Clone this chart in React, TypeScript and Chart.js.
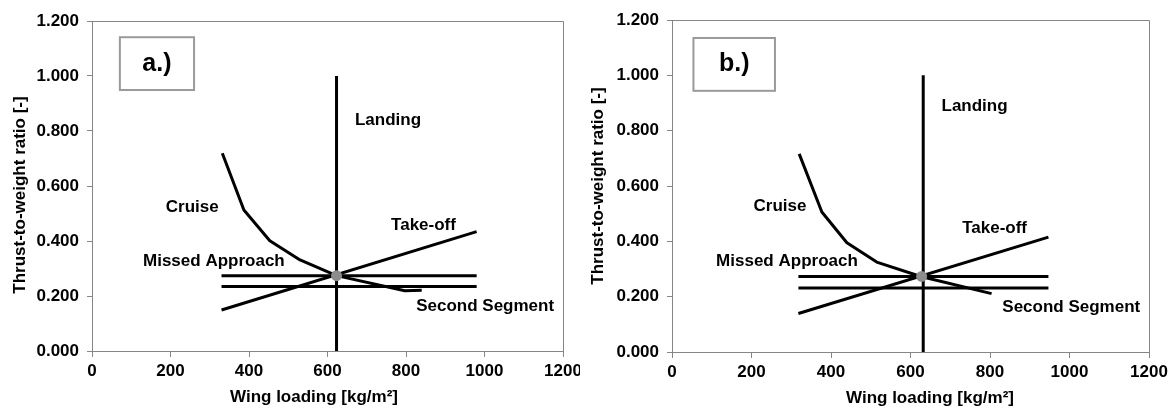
import React, { useEffect, useRef } from "react";
import { Chart, registerables } from "chart.js";

Chart.register(...registerables);

// ---------- Data ----------
const X_TICKS = [0, 200, 400, 600, 800, 1000, 1200];
const Y_TICKS = [0, 0.2, 0.4, 0.6, 0.8, 1.0, 1.2];

// Panel a.)
const A_CRUISE_X = [332, 387, 453, 530, 623, 797, 840];
const A_CRUISE_Y = [0.719, 0.513, 0.401, 0.331, 0.274, 0.219, 0.221];
const A_MISSED_X = [330, 980];
const A_MISSED_Y = [0.274, 0.274];
const A_SECOND_X = [330, 980];
const A_SECOND_Y = [0.235, 0.235];
const A_TAKEOFF_X = [330, 980];
const A_TAKEOFF_Y = [0.149, 0.434];
const A_LANDING_X = [623, 623];
const A_LANDING_Y = [0, 1.0];
const A_POINT = [623, 0.274];

// Panel b.)
const B_CRUISE_X = [320, 377, 440, 515, 626, 804];
const B_CRUISE_Y = [0.716, 0.506, 0.395, 0.325, 0.273, 0.211];
const B_MISSED_X = [318, 947];
const B_MISSED_Y = [0.273, 0.273];
const B_SECOND_X = [318, 947];
const B_SECOND_Y = [0.231, 0.231];
const B_TAKEOFF_X = [318, 947];
const B_TAKEOFF_Y = [0.139, 0.415];
const B_LANDING_X = [632, 632];
const B_LANDING_Y = [0, 1.0];
const B_POINT = [628, 0.273];

const LABEL_TEXTS = ["Landing", "Cruise", "Take-off", "Missed Approach", "Second Segment"];
const A_LABEL_X = [670, 188, 762, 130, 826];
const A_LABEL_Y = [0.838, 0.524, 0.458, 0.325, 0.161];
const B_LABEL_X = [678, 205, 730, 111, 831];
const B_LABEL_Y = [0.887, 0.527, 0.448, 0.327, 0.162];

const A_BOX = { text: "a.)", x0: 71, x1: 260, y0: 0.949, y1: 1.141 };
const B_BOX = { text: "b.)", x0: 54, x1: 259, y0: 0.944, y1: 1.135 };

const X_TITLE = "Wing loading [kg/m²]";
const Y_TITLE = "Thrust-to-weight ratio [-]";

const FONT = "'Liberation Sans', Arial, sans-serif";
const GRAY = "#868686";

const zip = (xs: number[], ys: number[]) => xs.map((x, i) => ({ x, y: ys[i] }));

type PanelCfg = {
  left: number;
  width: number;
  padTop: number;
  padRight: number;
  xAxisH: number;
  lines: { x: number[]; y: number[] }[];
  point: number[];
  labelX: number[];
  labelY: number[];
  box: { text: string; x0: number; x1: number; y0: number; y1: number };
  xTitlePos: number[];
  yTitlePos: number[];
};

const PANELS: PanelCfg[] = [
  {
    left: 0,
    width: 580,
    padTop: 21,
    padRight: 17,
    xAxisH: 57,
    lines: [
      { x: A_CRUISE_X, y: A_CRUISE_Y },
      { x: A_MISSED_X, y: A_MISSED_Y },
      { x: A_SECOND_X, y: A_SECOND_Y },
      { x: A_TAKEOFF_X, y: A_TAKEOFF_Y },
      { x: A_LANDING_X, y: A_LANDING_Y },
    ],
    point: A_POINT,
    labelX: A_LABEL_X,
    labelY: A_LABEL_Y,
    box: A_BOX,
    xTitlePos: [314, 397],
    yTitlePos: [20, 195],
  },
  {
    left: 580,
    width: 596,
    padTop: 20,
    padRight: 27,
    xAxisH: 56,
    lines: [
      { x: B_CRUISE_X, y: B_CRUISE_Y },
      { x: B_MISSED_X, y: B_MISSED_Y },
      { x: B_SECOND_X, y: B_SECOND_Y },
      { x: B_TAKEOFF_X, y: B_TAKEOFF_Y },
      { x: B_LANDING_X, y: B_LANDING_Y },
    ],
    point: B_POINT,
    labelX: B_LABEL_X,
    labelY: B_LABEL_Y,
    box: B_BOX,
    xTitlePos: [350, 398],
    yTitlePos: [18, 186],
  },
];

function Panel({ cfg }: { cfg: PanelCfg }) {
  const ref = useRef<HTMLCanvasElement>(null);
  useEffect(() => {
    if (!ref.current) return;
    const overlay = {
      id: "overlay",
      afterDraw(chart: any) {
        const ctx = chart.ctx;
        const ca = chart.chartArea;
        const xs = chart.scales.x;
        const ys = chart.scales.y;
        ctx.save();
        // border on top/right
        ctx.strokeStyle = GRAY;
        ctx.lineWidth = 1;
        ctx.beginPath();
        ctx.moveTo(Math.round(ca.left) + 0.5, Math.round(ca.top) + 0.5);
        ctx.lineTo(Math.round(ca.right) + 0.5, Math.round(ca.top) + 0.5);
        ctx.lineTo(Math.round(ca.right) + 0.5, Math.round(ca.bottom) + 0.5);
        ctx.stroke();
        // box
        const b = cfg.box;
        const bx0 = xs.getPixelForValue(b.x0);
        const bx1 = xs.getPixelForValue(b.x1);
        const by0 = ys.getPixelForValue(b.y1);
        const by1 = ys.getPixelForValue(b.y0);
        ctx.fillStyle = "#ffffff";
        ctx.fillRect(bx0, by0, bx1 - bx0, by1 - by0);
        ctx.strokeStyle = "#9a9a9a";
        ctx.lineWidth = 2;
        ctx.strokeRect(bx0, by0, bx1 - bx0, by1 - by0);
        ctx.fillStyle = "#000";
        ctx.font = `bold 25px ${FONT}`;
        ctx.textAlign = "center";
        ctx.textBaseline = "middle";
        ctx.fillText(b.text, (bx0 + bx1) / 2, (by0 + by1) / 2);
        // labels
        ctx.font = `bold 17px ${FONT}`;
        ctx.textAlign = "left";
        LABEL_TEXTS.forEach((t, i) => {
          ctx.fillText(t, xs.getPixelForValue(cfg.labelX[i]), ys.getPixelForValue(cfg.labelY[i]));
        });
        // axis titles
        ctx.textAlign = "center";
        ctx.fillText(X_TITLE, cfg.xTitlePos[0], cfg.xTitlePos[1]);
        ctx.translate(cfg.yTitlePos[0], cfg.yTitlePos[1]);
        ctx.rotate(-Math.PI / 2);
        ctx.fillText(Y_TITLE, 0, 0);
        ctx.restore();
      },
    };
    const lineDs = cfg.lines.map((l) => ({
      type: "scatter" as const,
      showLine: true,
      data: zip(l.x, l.y),
      borderColor: "#000",
      borderWidth: 3,
      pointRadius: 0,
      fill: false,
      tension: 0,
      borderJoinStyle: "round" as const,
      order: 2,
    }));
    const chart = new Chart(ref.current, {
      type: "scatter",
      data: {
        datasets: [
          ...lineDs,
          {
            type: "scatter" as const,
            data: [{ x: cfg.point[0], y: cfg.point[1] }],
            backgroundColor: "#8c8c8c",
            borderColor: "#8c8c8c",
            pointRadius: 5.5,
            borderWidth: 0,
            order: 0,
          },
        ] as any,
      },
      options: {
        animation: false,
        responsive: false,
        devicePixelRatio: 1,
        plugins: { legend: { display: false }, tooltip: { enabled: false } },
        layout: { padding: { top: cfg.padTop, right: cfg.padRight, left: 0, bottom: 0 } },
        scales: {
          x: {
            type: "linear",
            min: 0,
            max: 1200,
            afterBuildTicks: (s: any) => {
              s.ticks = X_TICKS.map((v) => ({ value: v }));
            },
            afterFit: (s: any) => {
              s.height = cfg.xAxisH;
              s.paddingLeft = 0;
              s.paddingRight = 0;
            },
            ticks: {
              color: "#000",
              font: { family: FONT, size: 17, weight: "bold" },
              padding: 4,
              maxRotation: 0,
              autoSkip: false,
              callback: (v: any) => String(v),
            },
            grid: { drawOnChartArea: false, drawTicks: true, tickLength: 6, color: GRAY },
            border: { color: GRAY, width: 1 },
          },
          y: {
            type: "linear",
            min: 0,
            max: 1.2,
            afterBuildTicks: (s: any) => {
              s.ticks = Y_TICKS.map((v) => ({ value: v }));
            },
            afterFit: (s: any) => {
              s.width = 92;
              s.paddingTop = 0;
              s.paddingBottom = 0;
            },
            ticks: {
              color: "#000",
              font: { family: FONT, size: 17, weight: "bold" },
              padding: 8,
              autoSkip: false,
              callback: (v: any) => Number(v).toFixed(3),
            },
            grid: { drawOnChartArea: false, drawTicks: true, tickLength: 5, color: GRAY },
            border: { color: GRAY, width: 1 },
          },
        },
      } as any,
      plugins: [overlay],
    });
    return () => chart.destroy();
  }, [cfg]);
  return (
    <canvas
      ref={ref}
      width={cfg.width}
      height={408}
      style={{ position: "absolute", left: cfg.left, top: 0, width: cfg.width, height: 408 }}
    />
  );
}

export default function App() {
  return (
    <div
      style={{
        position: "fixed",
        left: 0,
        top: 0,
        width: 1176,
        height: 408,
        background: "#fff",
        overflow: "hidden",
      }}
    >
      {PANELS.map((p, i) => (
        <Panel key={i} cfg={p} />
      ))}
    </div>
  );
}
